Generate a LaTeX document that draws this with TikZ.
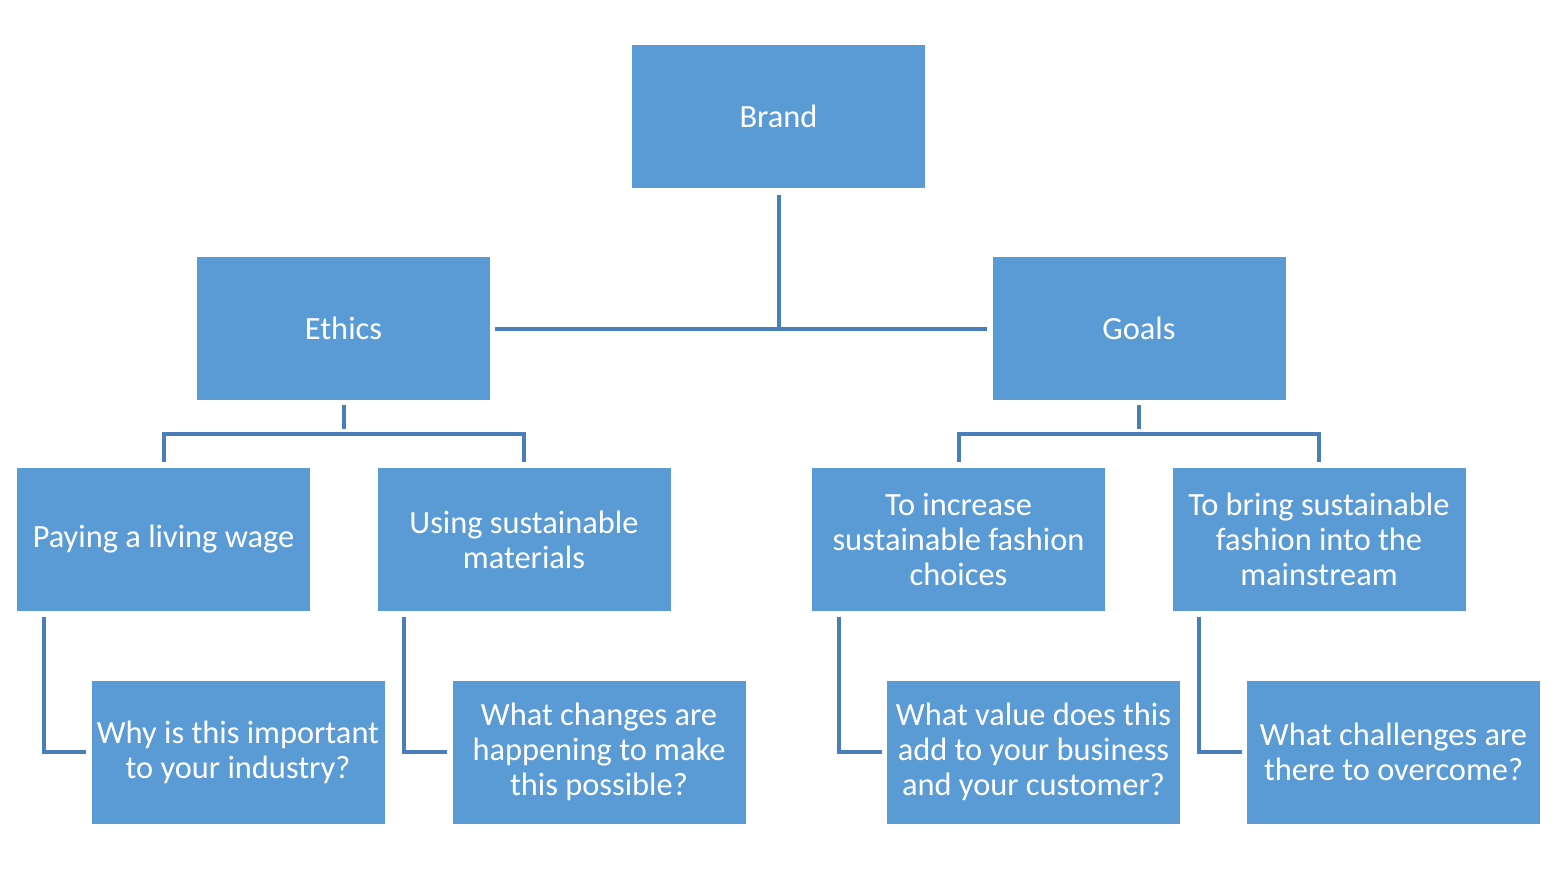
\documentclass[tikz,border=0pt]{standalone}
\usepackage{fontspec}
\setmainfont{Carlito}
\usetikzlibrary{positioning}

\definecolor{boxblue}{HTML}{5B9BD5}
\definecolor{lineblue}{HTML}{4A7EBB}

\tikzset{
  box/.style={fill=boxblue, text=white, align=center, inner sep=2pt,
    minimum width=146.5pt, minimum height=71.5pt,
    font=\fontsize{16.2pt}{17.5pt}\selectfont},
  conn/.style={lineblue, line width=2pt}
}

\begin{document}
\begin{tikzpicture}[x=0.5pt, y=-0.5pt]
\useasboundingbox (0,0) rectangle (1558,868);
\node[box] (brand) at (778.5,116.5) {Brand};
\node[box] (ethics) at (343.5,328.5) {Ethics};
\node[box] (goals) at (1139,328.5) {Goals};
\node[box] (paying) at (163.5,539.5) {Paying a living wage};
\node[box] (using) at (524,539.5) {Using sustainable\\materials};
\node[box] (increase) at (958.5,539.5) {To increase\\sustainable fashion\\choices};
\node[box] (bring) at (1319,539.5) {To bring sustainable\\fashion into the\\mainstream};
\node[box] (why) at (238,752) {Why is this important\\to your industry?};
\node[box] (changes) at (599,752) {What changes are\\happening to make\\this possible?};
\node[box] (value) at (1033.5,752) {What value does this\\add to your business\\and your customer?};
\node[box] (challenges) at (1393.5,752) {What challenges are\\there to overcome?};
% brand to ethics and goals
\draw[conn, shorten <=2.5pt, shorten >=2.5pt] (ethics.east) -- (goals.west);
\draw[conn, shorten <=3.5pt] (brand.south) -- (brand.south |- ethics.east);
% ethics
\draw[conn, shorten <=2.5pt] (ethics.south) -- ++(0,-14.5pt);
\draw[conn, shorten <=3pt, shorten >=3pt] (paying.north) -- ++(0,17pt) -| (using.north);
% goals
\draw[conn, shorten <=2.5pt] (goals.south) -- ++(0,-14.5pt);
\draw[conn, shorten <=3pt, shorten >=3pt] (increase.north) -- ++(0,17pt) -| (bring.north);
% questions
\draw[conn, shorten <=3pt, shorten >=2.5pt] ([xshift=13.5pt]paying.south west) |- (why.west);
\draw[conn, shorten <=3pt, shorten >=2.5pt] ([xshift=13.5pt]using.south west) |- (changes.west);
\draw[conn, shorten <=3pt, shorten >=2.5pt] ([xshift=13.5pt]increase.south west) |- (value.west);
\draw[conn, shorten <=3pt, shorten >=2.5pt] ([xshift=13.5pt]bring.south west) |- (challenges.west);
\end{tikzpicture}
\end{document}
